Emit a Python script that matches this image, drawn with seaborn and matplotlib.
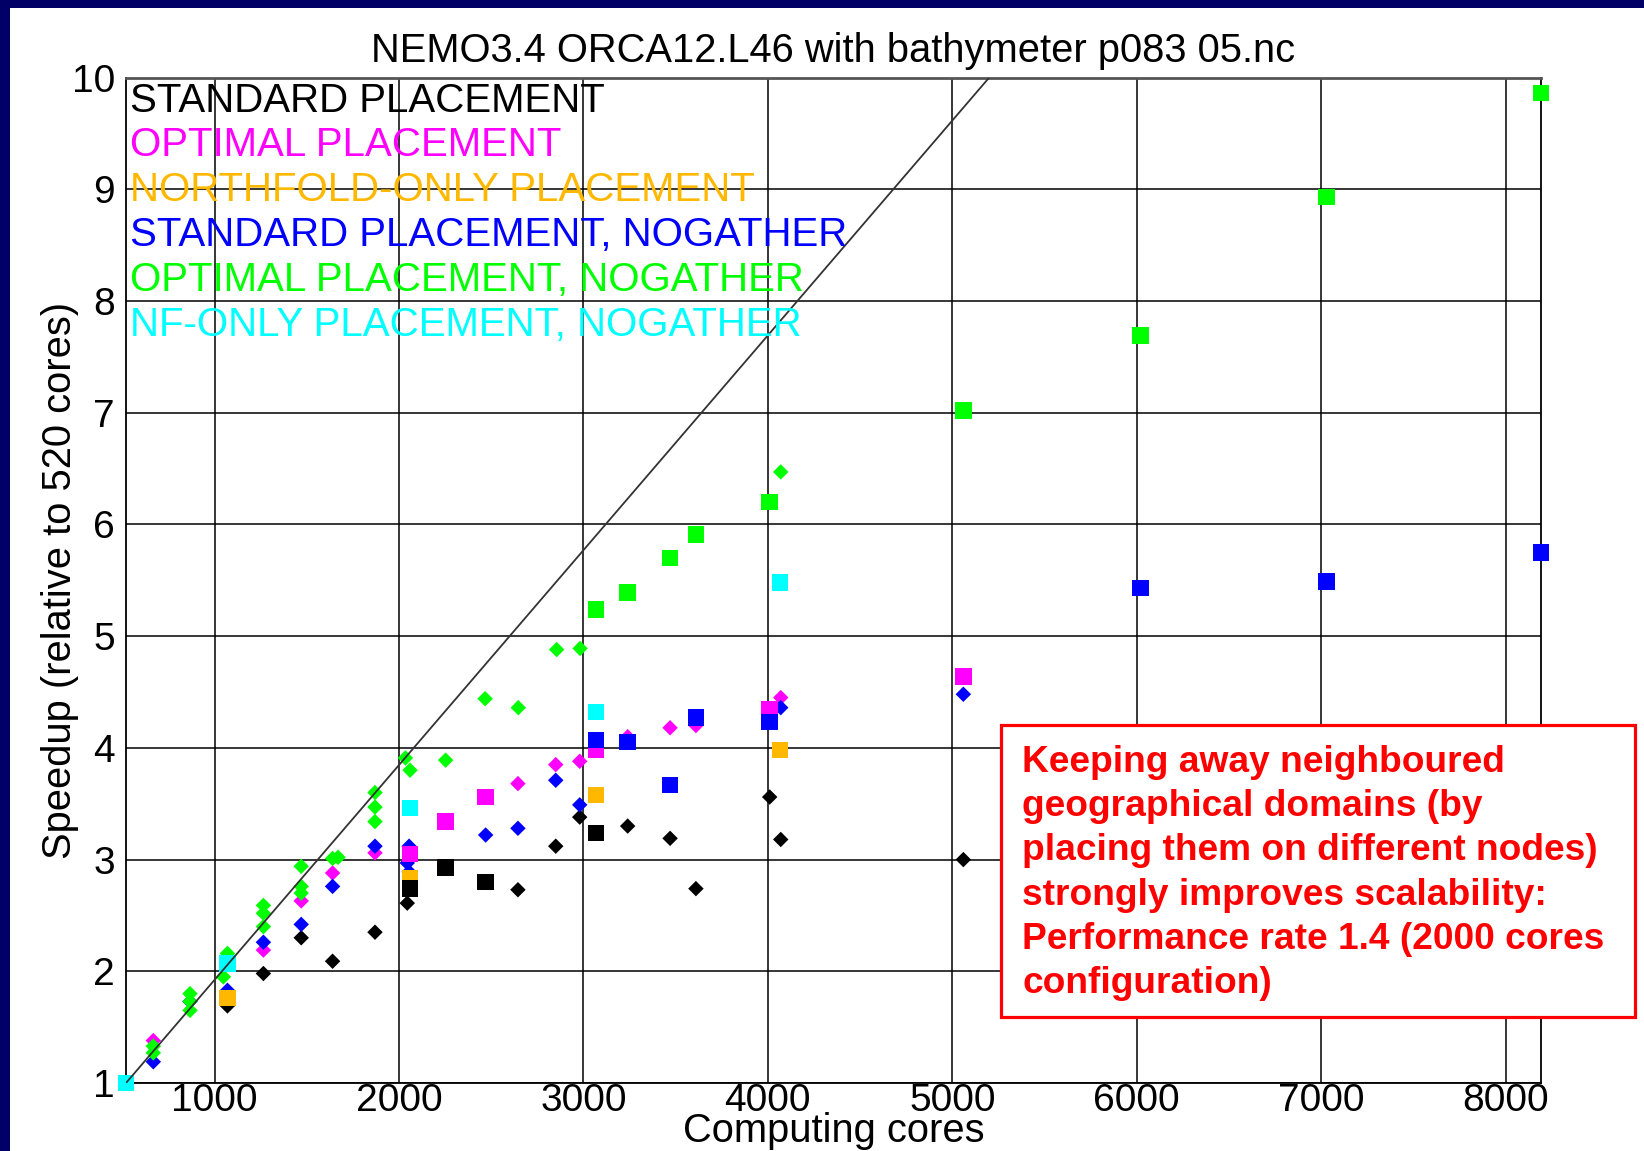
import matplotlib
matplotlib.use("Agg")
import matplotlib.pyplot as plt
import numpy as np
import pandas as pd
import seaborn as sns
from matplotlib.lines import Line2D
from matplotlib.patches import Rectangle

# ---------------- data ----------------
series_names = ["STANDARD PLACEMENT", "OPTIMAL PLACEMENT", "NORTHFOLD-ONLY PLACEMENT",
                "STANDARD PLACEMENT, NOGATHER", "OPTIMAL PLACEMENT, NOGATHER",
                "NF-ONLY PLACEMENT, NOGATHER"]
series_colors = ["#000000", "#FF00FF", "#FFB800", "#0000FF", "#00FF00", "#00FFFF"]

# diamonds
black_d_cores = [1070, 1265, 1470, 1640, 1870, 2045, 2645, 2850, 2980, 3240, 3470, 3610, 4010, 4070, 5060]
black_d_speedup = [1.69, 1.98, 2.30, 2.09, 2.35, 2.61, 2.73, 3.12, 3.38, 3.30, 3.19, 2.74, 3.56, 3.18, 3.00]
magenta_d_cores = [668, 1265, 1470, 1640, 1870, 2645, 2850, 2980, 3240, 3470, 3610, 4070]
magenta_d_speedup = [1.38, 2.19, 2.63, 2.88, 3.06, 3.68, 3.85, 3.88, 4.10, 4.18, 4.20, 4.45]
blue_d_cores = [668, 867, 1070, 1265, 1470, 1640, 1870, 2055, 2045, 2055, 2470, 2645, 2850, 2980, 4070, 5060]
blue_d_speedup = [1.19, 1.73, 1.83, 2.26, 2.42, 2.76, 3.12, 3.12, 2.97, 2.89, 3.22, 3.28, 3.71, 3.49, 4.36, 4.48]
green_d_cores = [668, 668, 867, 867, 867, 1048, 1070, 1265, 1265, 1265, 1470, 1470, 1470, 1640, 1670,
                 1870, 1870, 1870, 2035, 2060, 2253, 2467, 2647, 2855, 2982, 4070]
green_d_speedup = [1.33, 1.27, 1.80, 1.73, 1.65, 1.95, 2.16, 2.59, 2.52, 2.40, 2.94, 2.76, 2.70, 3.01, 3.02,
                   3.60, 3.47, 3.34, 3.91, 3.80, 3.89, 4.44, 4.36, 4.88, 4.89, 6.47]

# squares
orange_s_cores = [1070, 2060, 3067, 4066]
orange_s_speedup = [1.76, 2.83, 3.58, 3.98]
black_s_cores = [2060, 2253, 2470, 3067]
black_s_speedup = [2.74, 2.93, 2.80, 3.24]
magenta_s_cores = [2060, 2253, 2470, 3067, 4010, 5060]
magenta_s_speedup = [3.05, 3.34, 3.56, 3.98, 4.35, 4.64]
blue_s_cores = [3067, 3240, 3470, 3610, 4010, 6020, 7030, 8192]
blue_s_speedup = [4.07, 4.05, 3.67, 4.27, 4.23, 5.43, 5.49, 5.75]
green_s_cores = [3067, 3240, 3470, 3610, 4010, 5060, 6020, 7030, 8192]
green_s_speedup = [5.24, 5.39, 5.70, 5.91, 6.20, 7.02, 7.69, 8.93, 9.86]
cyan_s_cores = [520, 1070, 2060, 3067, 4066]
cyan_s_speedup = [1.00, 2.07, 3.46, 4.32, 5.48]

# ideal speedup reference line
ideal_cores = [520, 5200]
ideal_speedup = [1.0, 10.0]

x_ticks = [1000, 2000, 3000, 4000, 5000, 6000, 7000, 8000]
y_ticks = [1, 2, 3, 4, 5, 6, 7, 8, 9, 10]

title_text = "NEMO3.4 ORCA12.L46 with bathymeter p083 05.nc"
xlabel_text = "Computing cores"
ylabel_text = "Speedup (relative to 520 cores)"
note_text = ("Keeping away neighboured\n"
             "geographical domains (by\n"
             "placing them on different nodes)\n"
             "strongly improves scalability:\n"
             "Performance rate 1.4 (2000 cores\n"
             "configuration)")

# ---------------- table ----------------
groups = [
    (0, "diamond", black_d_cores, black_d_speedup),
    (1, "diamond", magenta_d_cores, magenta_d_speedup),
    (3, "diamond", blue_d_cores, blue_d_speedup),
    (4, "diamond", green_d_cores, green_d_speedup),
    (2, "square", orange_s_cores, orange_s_speedup),
    (0, "square", black_s_cores, black_s_speedup),
    (1, "square", magenta_s_cores, magenta_s_speedup),
    (3, "square", blue_s_cores, blue_s_speedup),
    (4, "square", green_s_cores, green_s_speedup),
    (5, "square", cyan_s_cores, cyan_s_speedup),
]
frames = []
for si, kind, xs, ys in groups:
    frames.append(pd.DataFrame({"cores": xs, "speedup": ys,
                                "series": series_names[si], "kind": kind}))
df = pd.concat(frames, ignore_index=True)

# ---------------- fonts ----------------
sns.set_theme(style="white")
plt.rcParams["font.family"] = ["Liberation Sans", "DejaVu Sans"]

W, H = 1644, 1151
fig = plt.figure(figsize=(W / 100, H / 100), dpi=100)
fig.patch.set_facecolor("#000066")
fig.add_artist(Rectangle((10 / W, 0), 1, 1 - 8 / H, transform=fig.transFigure,
                         facecolor="white", edgecolor="none", zorder=-10))

ax = fig.add_axes([126 / W, 1 - 1083 / H, (1541 - 126) / W, (1083 - 77.6) / H])
ax.set_facecolor("white")

sns.scatterplot(data=df, x="cores", y="speedup", hue="series",
                palette=dict(zip(series_names, series_colors)),
                style="kind", markers={"diamond": "D", "square": "s"},
                size="kind", sizes={"diamond": 62, "square": 140},
                linewidth=0, legend=False, ax=ax, zorder=3, clip_on=False)
sns.lineplot(x=ideal_cores, y=ideal_speedup, color="#333333", linewidth=1.3, ax=ax, zorder=4)

ax.set_xlim(520, 8192)
ax.set_ylim(1, 10)
ax.set_xticks(x_ticks)
ax.set_yticks(y_ticks)
ax.grid(True, color="black", linewidth=1.1, zorder=0)
ax.set_axisbelow(True)
for s in ax.spines.values():
    s.set_color("black")
    s.set_linewidth(1.3)
ax.spines["top"].set_color("#555555")
ax.spines["top"].set_linewidth(2.0)
ax.tick_params(axis="both", labelsize=28, length=0, pad=0, colors="black")
ax.tick_params(axis="y", pad=8)

ax.set_title(title_text, fontsize=28.7, pad=11, color="black")
ax.set_xlabel(xlabel_text, fontsize=28.7, labelpad=-5, color="black")
ax.set_ylabel(ylabel_text, fontsize=28.7, labelpad=-5, color="black")

handles = [Line2D([], [], linestyle="none") for _ in series_names]
leg = ax.legend(handles, series_names, loc="upper left", frameon=False,
                handlelength=0, handletextpad=0, borderaxespad=0.0, borderpad=0.1,
                labelspacing=0.17, fontsize=29, labelcolor=series_colors)
leg.set_zorder(5)

# annotation box
bx0, by0, bx1, by1 = 1001, 725, 1635, 1017
fig.add_artist(Rectangle((bx0 / W, 1 - by1 / H), (bx1 - bx0) / W, (by1 - by0) / H,
                         transform=fig.transFigure, facecolor="white", edgecolor="#FF0000",
                         linewidth=2.3, zorder=10))
fig.text(1022 / W, 1 - 745 / H, note_text, color="#FF0000", fontsize=26.7,
         fontweight="bold", family=["Liberation Sans", "DejaVu Sans"],
         va="top", ha="left", linespacing=1.34, zorder=11)

fig.savefig("out.png", dpi=100, facecolor=fig.get_facecolor())
